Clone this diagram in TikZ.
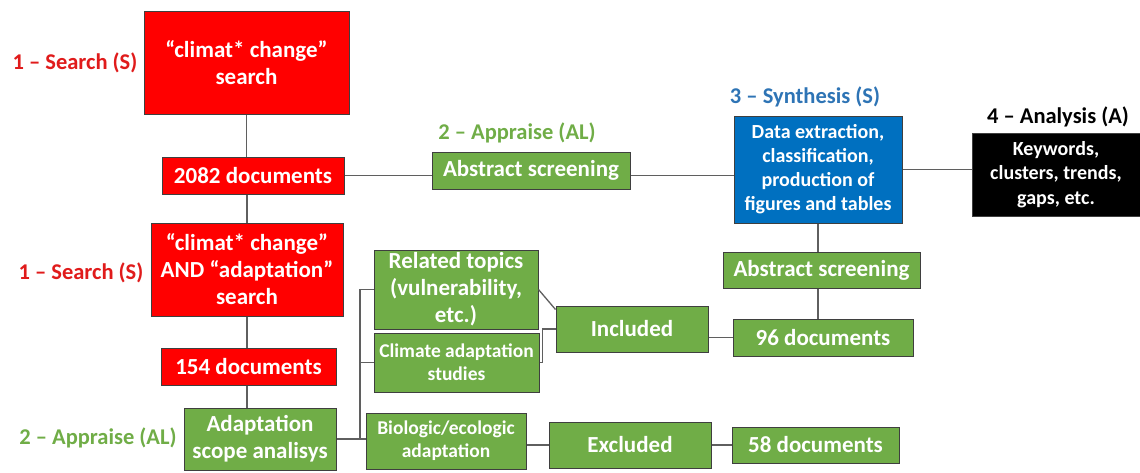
\documentclass[tikz,border=0pt]{standalone}
\usepackage{fontspec}
\setmainfont{Carlito}
\definecolor{srchred}{HTML}{FF0000}
\definecolor{apprgreen}{HTML}{70AD47}
\definecolor{synthblue}{HTML}{0070C0}
\definecolor{labred}{HTML}{E01B1B}
\definecolor{labblue}{HTML}{2E74B5}
\definecolor{edgegray}{HTML}{3F3F3F}
\definecolor{linkgray}{HTML}{5F5F5F}
\begin{document}
\begin{tikzpicture}[
        x=1pt, y=-1pt,
        box/.style={draw=edgegray, line width=1pt, text=white, align=center, inner sep=0pt,
            font=\fontsize{23}{27}\selectfont\bfseries},
        redbox/.style={box, fill=srchred},
        greenbox/.style={box, fill=apprgreen},
        bluebox/.style={box, fill=synthblue, font=\fontsize{20}{24}\selectfont\bfseries},
        blackbox/.style={box, fill=black, font=\fontsize{20}{24.5}\selectfont\bfseries},
        small/.style={font=\fontsize{19.5}{23}\selectfont\bfseries},
        phase/.style={inner sep=0pt, font=\fontsize{22.5}{26}\selectfont\bfseries},
        ln/.style={draw=linkgray, line width=1.3pt},
    ]
    \useasboundingbox (0,0) rectangle (1140,472);

    % search stages
    \node[redbox, minimum width=205, minimum height=103](srchA) at (246.5,62.5) {“climat* change”\\search};
    \node[redbox, minimum width=182, minimum height=37](docsA) at (253,175.5) {2082 documents};
    \node[redbox, minimum width=192, minimum height=93](srchB) at (247,269.5) {“climat* change”\\AND “adaptation”\\search};
    \node[redbox, minimum width=175, minimum height=37](docsB) at (248.5,366.5) {154 documents};
    \node[greenbox, minimum width=152, minimum height=62](scope) at (260,439) {Adaptation\\scope analisys};

    % appraisal
    \node[greenbox, minimum width=198, minimum height=37](absA) at (531,170.5) {Abstract screening};
    \node[greenbox, minimum width=164, minimum height=79](related) at (456,289.5) {Related topics\\(vulnerability,\\etc.)};
    \node[greenbox, small, minimum width=165, minimum height=59](studies) at (456.5,362.5) {Climate adaptation\\studies};
    \node[greenbox, small, minimum width=160, minimum height=56](biol) at (446,441) {Biologic/ecologic\\adaptation};
    \node[greenbox, minimum width=152, minimum height=46](incl) at (632,329) {Included};
    \node[greenbox, minimum width=162, minimum height=46](excl) at (630,445) {Excluded};

    % synthesis and analysis
    \node[bluebox, minimum width=168, minimum height=107](synth) at (818,169.5) {Data extraction,\\classification,\\production of\\figures and tables};
    \node[blackbox, minimum width=168, minimum height=83](anal) at (1056,174.5) {Keywords,\\clusters, trends,\\gaps, etc.};
    \node[greenbox, minimum width=197, minimum height=36](absB) at (821.5,270) {Abstract screening};
    \node[greenbox, minimum width=180, minimum height=37](docsC) at (823,337.5) {96 documents};
    \node[greenbox, minimum width=167, minimum height=36](docsD) at (815.5,445) {58 documents};

    % phase labels
    \node[phase, text=labred](labSA) at (75,63) {1 – Search (S)};
    \node[phase, text=labred](labSB) at (81,273) {1 – Search (S)};
    \node[phase, text=apprgreen](labAA) at (98,438) {2 – Appraise (AL)};
    \node[phase, text=apprgreen](labAB) at (517,133) {2 – Appraise (AL)};
    \node[phase, text=labblue](labSy) at (805,97) {3 – Synthesis (S)};
    \node[phase, text=black](labAn) at (1058,117) {4 – Analysis (A)};

    \coordinate (fork) at (360,0);

    \path[ln]
    (srchA.south) edge (srchA.south |- docsA.north)
    (srchB.north |- docsA.south) edge (srchB.north)
    (srchB.south) edge (srchB.south |- docsB.north)
    (srchB.south |- docsB.south) edge (srchB.south |- scope.north)
    (docsA.east) edge (docsA.east -| absA.west)
    (absA.east |- docsA.east) edge (synth.west |- docsA.east)
    (synth.east) edge (synth.east -| anal.west)
    (synth.south) edge (synth.south |- absB.north)
    (synth.south |- absB.south) edge (synth.south |- docsC.north)
    (docsC.west -| incl.east) edge (docsC.west)
    (excl.west -| biol.east) edge (excl.west)
    (excl.east) edge (excl.east -| docsD.west)
    (related.east) edge ([yshift=-4pt]incl.north west)
    ;
    \draw[ln] (scope.east) -- (scope.east -| fork) |- (related.west);
    \draw[ln] (fork |- studies.west) -- (studies.west);
    \draw[ln] (scope.east -| fork) -- (scope.east -| biol.west);
    \draw[ln] (studies.east) -- ++(3,0) |- (incl.west);
\end{tikzpicture}
\end{document}
